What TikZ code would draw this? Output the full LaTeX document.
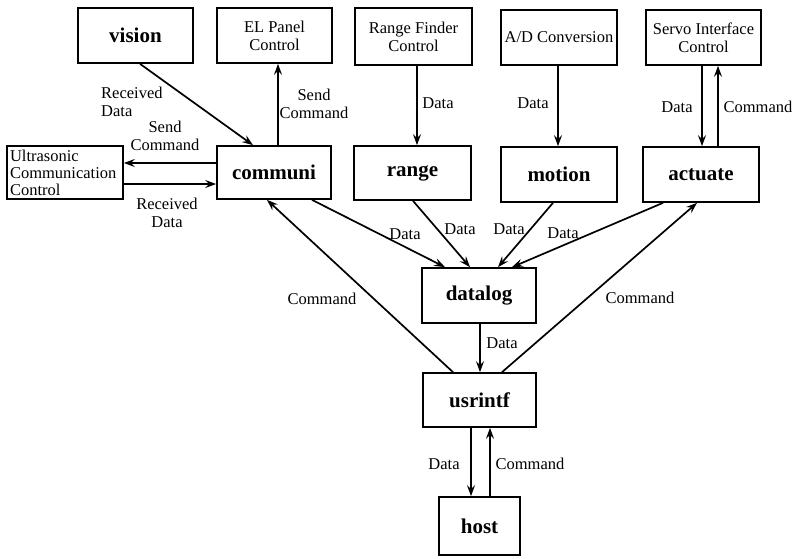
\documentclass[tikz,border=0pt]{standalone}
\usepackage{fontspec}
\setmainfont{Liberation Serif}
\usetikzlibrary{arrows.meta}
\begin{document}
\begin{tikzpicture}[x=1pt,y=-1pt,
 box/.style={draw,line width=1.7pt,inner sep=0pt,align=center,font=\fontsize{16.5}{18}\selectfont},
 bbox/.style={box,font=\fontsize{21}{24}\selectfont\bfseries},
 sz/.style 2 args={minimum width=#1pt,minimum height=#2pt},
 arr/.style={-{Stealth[length=11pt,width=8pt,inset=4pt]},line width=1.7pt},
 lab/.style={font=\fontsize{16.5}{18}\selectfont,align=center,inner sep=0pt}]
\useasboundingbox (0,0) rectangle (795,558);
% boxes
\node[bbox,sz={115}{55}] (vision) at (135.5,35.5) {vision};
\node[box,sz={115}{55}] (elpanel) at (274.5,35.5) {EL Panel\\Control};
\node[box,sz={117}{57}] (rfc) at (413.5,36.5) {Range Finder\\Control};
\node[box,sz={116}{55}] (adc) at (559,37.5) {A/D Conversion};
\node[box,sz={115}{55}] (servo) at (703.5,37.5) {Servo Interface\\Control};
\node[box,sz={116}{53},align=left,text width=110pt] (ultra) at (65,172.5) {Ultrasonic\\[-1pt]Communication\\[-1pt]Control};
\node[bbox,sz={114}{53}] (communi) at (274,172.5) {communi};
\node[bbox,sz={117}{54}] (range) at (412.5,173) {range};
\node[bbox,sz={116}{55}] (motion) at (559,174.5) {motion};
\node[bbox,sz={116}{55}] (actuate) at (701,174.5) {actuate};
\node[bbox,sz={114}{55}] (datalog) at (479,295.5) {datalog};
\node[bbox,sz={113}{54}] (usrintf) at (479.5,400) {usrintf};
\node[bbox,sz={81}{58}] (host) at (479.5,526) {host};
% connectors
\draw[arr] ([xshift=4.5pt]vision.south) -- ([xshift=-21pt]communi.north);
\draw[arr] ([xshift=4pt]communi.north) -- ([xshift=4pt]communi.north |- elpanel.south);
\draw[arr] ([yshift=9.5pt]communi.west) -- ([yshift=9.5pt]communi.west -| ultra.east);
\draw[arr] ([yshift=-11.5pt]ultra.east) -- ([yshift=-11.5pt]ultra.east -| communi.west);
\draw[arr] ([xshift=3.5pt]rfc.south) -- ([xshift=3.5pt]rfc.south |- range.north);
\draw[arr] ([xshift=-1pt]adc.south) -- ([xshift=-1pt]adc.south |- motion.north);
\draw[arr] ([xshift=-1.5pt]servo.south) -- ([xshift=-1.5pt]servo.south |- actuate.north);
\draw[arr] ([xshift=17pt]actuate.north) -- ([xshift=17pt]actuate.north |- servo.south);
\draw[arr] ([xshift=38pt]communi.south) -- ([xshift=-34pt]datalog.north);
\draw[arr] ([xshift=0.5pt]range.south) -- ([xshift=-9pt]datalog.north);
\draw[arr] ([xshift=-6pt]motion.south) -- ([xshift=19pt]datalog.north);
\draw[arr] ([xshift=-38pt]actuate.south) -- ([xshift=33pt]datalog.north);
\draw[arr] ([xshift=-26.5pt]usrintf.north) -- ([xshift=-7pt]communi.south);
\draw[arr] ([xshift=22.5pt]usrintf.north) -- ([xshift=-4pt]actuate.south);
\draw[arr] ([xshift=1pt]datalog.south) -- ([xshift=1pt]datalog.south |- usrintf.north);
\draw[arr] ([xshift=-8.5pt]usrintf.south) -- ([xshift=-8.5pt]usrintf.south |- host.north);
\draw[arr] ([xshift=10.5pt]host.north) -- ([xshift=10.5pt]host.north |- usrintf.south);
% labels
\node[lab,align=left,anchor=west] (l1) at (101,102) {Received\\Data};
\node[lab] (l2) at (314,104) {Send\\Command};
\node[lab] (l3) at (165,136) {Send\\Command};
\node[lab] (l4) at (167,213) {Received\\Data};
\node[lab] (l5) at (438,103) {Data};
\node[lab] (l6) at (533,103) {Data};
\node[lab] (l7) at (677,107) {Data};
\node[lab] (l8) at (758,107) {Command};
\node[lab] (l9) at (405,234) {Data};
\node[lab] (l10) at (460,229) {Data};
\node[lab] (l11) at (509,229) {Data};
\node[lab] (l12) at (563,233) {Data};
\node[lab] (l13) at (322,299) {Command};
\node[lab] (l14) at (640,298) {Command};
\node[lab] (l15) at (502,343) {Data};
\node[lab] (l16) at (444,464) {Data};
\node[lab] (l17) at (530,464) {Command};
\end{tikzpicture}
\end{document}
